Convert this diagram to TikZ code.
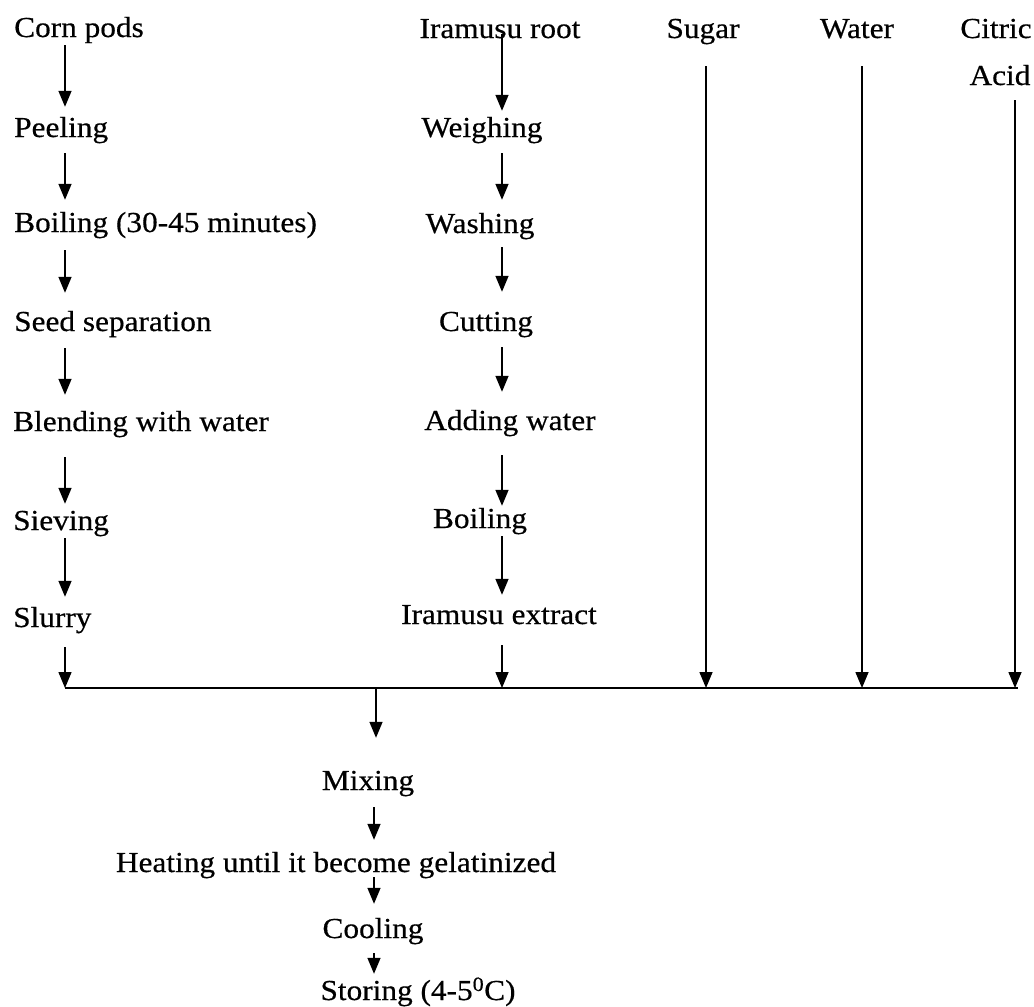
\documentclass[tikz,border=0pt]{standalone}
\usepackage{fontspec}
\setmainfont{Liberation Serif}[FakeStretch=1.08,FakeBold=0.5]
\usetikzlibrary{arrows.meta}
\begin{document}
\begin{tikzpicture}[x=1pt,y=-1pt,
  lbl/.style={inner xsep=0pt,inner ysep=6pt,text height=20pt,text depth=2pt,font=\fontsize{29}{34}\selectfont},
  lft/.style={lbl,anchor=west},
  arr/.style={line width=1.5pt,-{Triangle[width=13pt,length=16pt]}},
  ln/.style={line width=1.5pt}]
\useasboundingbox (0,0) rectangle (1034,1007);
% columns
\coordinate (lx) at (65,0);
\coordinate (mx) at (502,0);
\coordinate (bx) at (374,0);
% left column
\node[lft] (cp) at (14,28) {Corn pods};
\node[lft] (pe) at (14,128) {Peeling};
\node[lft] (bo) at (14,223) {Boiling (30-45 minutes)};
\node[lft] (ss) at (14,322) {Seed separation};
\node[lft] (bw) at (13,422) {Blending with water};
\node[lft] (si) at (13,521) {Sieving};
\node[lft] (sl) at (13,618) {Slurry};
% middle column
\node[lbl] (ir) at (500,29) {Iramusu root};
\node[lbl] (we) at (482,128) {Weighing};
\node[lbl] (wa) at (480,224) {Washing};
\node[lbl] (cu) at (486,322) {Cutting};
\node[lbl] (aw) at (510,421) {Adding water};
\node[lbl] (bl) at (480,519) {Boiling};
\node[lbl] (ie) at (499,615) {Iramusu extract};
% other inputs
\node[lbl] (su) at (703,29) {Sugar};
\node[lbl] (wt) at (857,29) {Water};
\node[lbl] (ci) at (996,29) {Citric};
\node[lbl] (ac) at (1000,76) {Acid};
% lower chain
\node[lbl] (mi) at (368,781) {Mixing};
\node[lbl] (he) at (336,863) {Heating until it become gelatinized};
\node[lbl] (co) at (373,929) {Cooling};
\node[lbl] (st) at (418,991) {Storing (4-5\textsuperscript{0}C)};
% junction
\coordinate (jl) at (65,688);
\coordinate (jr) at (1018,688);
\coordinate (jm) at (376,688);
\coordinate (js) at (706,688);
\coordinate (jw) at (862,688);
\coordinate (jc) at (1015,688);
% left arrows
\draw[arr,shorten >=4pt] (cp.south -| lx) -- (pe.north -| lx);
\draw[arr,shorten >=6pt] ([yshift=-8pt]pe.south -| lx) -- (bo.north -| lx);
\draw[arr,shorten >=12pt] ([yshift=-10pt]bo.south -| lx) -- (ss.north -| lx);
\draw[arr,shorten >=10pt] ([yshift=-9pt]ss.south -| lx) -- (bw.north -| lx);
\draw[arr] ([yshift=-18pt]bw.south -| lx) -- (si.north -| lx);
\draw[arr,shorten >=4pt] (si.south -| lx) -- (sl.north -| lx);
\draw[arr] ([yshift=-12pt]sl.south -| lx) -- (jl);
% middle arrows
\draw[arr] ([yshift=4pt]ir.base -| mx) -- (we.north -| mx);
\draw[arr,shorten >=7pt] ([yshift=-8pt]we.south -| mx) -- (wa.north -| mx);
\draw[arr,shorten >=13pt] ([yshift=-6pt]wa.south -| mx) -- (cu.north -| mx);
\draw[arr,shorten >=12pt] ([yshift=-8pt]cu.south -| mx) -- (aw.north -| mx);
\draw[arr,shorten >=-4pt] ([yshift=-17pt]aw.south -| mx) -- (bl.north -| mx);
\draw[arr,shorten >=3pt] (bl.south -| mx) -- (ie.north -| mx);
\draw[arr] ([yshift=-13pt]ie.south -| mx) -- (jm -| mx);
% input lines
\draw[arr,shorten <=20pt] (su.south -| js) -- (js);
\draw[arr,shorten <=20pt] (wt.south -| jw) -- (jw);
\draw[arr,shorten <=7pt] (ac.south -| jc) -- (jc);
% junction line
\draw[ln] (jl) -- (jr);
% lower arrows
\draw[arr,shorten >=26pt] (jm) -- (mi.north -| jm);
\draw[arr,shorten >=6pt] ([yshift=-9pt]mi.south -| bx) -- (he.north -| bx);
\draw[arr,shorten >=8pt] ([yshift=3pt]he.south -| bx) -- (co.north -| bx);
\draw[arr] ([yshift=-7pt]co.south -| bx) -- (st.north -| bx);
\end{tikzpicture}
\end{document}
